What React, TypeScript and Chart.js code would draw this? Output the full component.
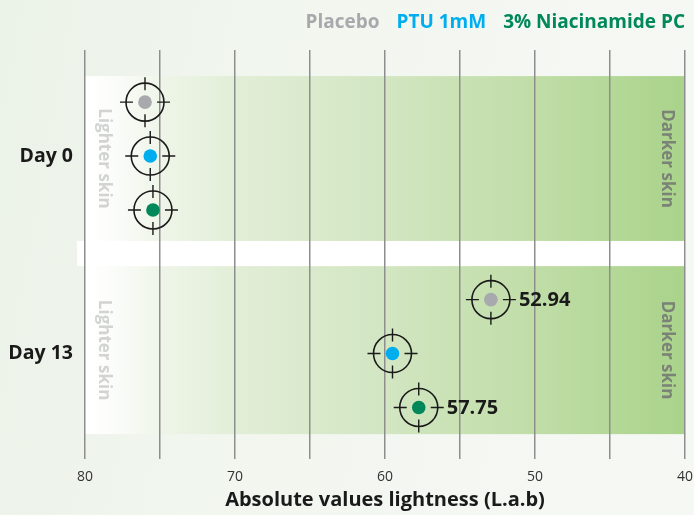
import React, { useEffect, useRef } from 'react';
import { Chart, registerables } from 'chart.js';

Chart.register(...registerables);

// ---- data ----
const days = ['Day 0', 'Day 13'];
const treatments = ['Placebo', 'PTU 1mM', '3% Niacinamide PC'];
const treatmentColors = ['#a7a9ac', '#00aeef', '#00875a'];
const placebo = [76.0, 52.94];
const ptu = [75.65, 59.5];
const niacinamide = [75.47, 57.75];
const placeboLabels = [null, '52.94'];
const ptuLabels = [null, null];
const niacinamideLabels = [null, '57.75'];
const xMin = 40;
const xMax = 80;
const xStep = 5;
const lighterText = 'Lighter skin';
const darkerText = 'Darker skin';
const axisTitle = 'Absolute values lightness (L.a.b)';

// group layout on the (hidden) y scale
const dayCenters = [0, 1];
const rowOffsets = [-0.273, 0, 0.273];
const panelRanges = [
  [-0.405, 0.43],
  [0.557, 1.408],
];

const FONT = '"Open Sans", Lato, sans-serif';

const seriesValues = [placebo, ptu, niacinamide];
const seriesLabels = [placeboLabels, ptuLabels, niacinamideLabels];

const panelsPlugin = {
  id: 'panels',
  beforeDraw(chart: any) {
    const { ctx, chartArea } = chart;
    const y = chart.scales.y;
    const left = chartArea.left;
    const right = chartArea.right;
    ctx.save();
    panelRanges.forEach(([a, b]) => {
      const top = y.getPixelForValue(a);
      const bot = y.getPixelForValue(b);
      const g = ctx.createLinearGradient(left, 0, right, 0);
      g.addColorStop(0, '#ffffff');
      g.addColorStop(0.04, '#fcfdfb');
      g.addColorStop(0.13, '#eef5e8');
      g.addColorStop(0.25, '#e2eed7');
      g.addColorStop(0.5, '#d2e6c2');
      g.addColorStop(0.75, '#c0dda7');
      g.addColorStop(1, '#a9d38a');
      ctx.fillStyle = g;
      ctx.fillRect(left, top, right - left, bot - top);

      const cy = (top + bot) / 2;
      ctx.font = `bold 17px ${FONT}`;
      ctx.textAlign = 'center';
      ctx.textBaseline = 'middle';
      ctx.fillStyle = '#d2d3d3';
      ctx.save();
      ctx.translate(left + 19, cy);
      ctx.rotate(Math.PI / 2);
      ctx.fillText(lighterText, 0, 0);
      ctx.restore();
      ctx.fillStyle = '#7b8276';
      ctx.save();
      ctx.translate(right - 18, cy);
      ctx.rotate(Math.PI / 2);
      ctx.fillText(darkerText, 0, 0);
      ctx.restore();
    });
    // white separator between the two panels
    const sTop = y.getPixelForValue(panelRanges[0][1]);
    const sBot = y.getPixelForValue(panelRanges[1][0]);
    ctx.fillStyle = '#ffffff';
    ctx.fillRect(left - 8, sTop, right - left + 9, sBot - sTop);

    // day labels
    ctx.font = `bold 19.5px ${FONT}`;
    ctx.fillStyle = '#1a1a1a';
    ctx.textAlign = 'right';
    ctx.textBaseline = 'middle';
    days.forEach((d, i) => {
      ctx.fillText(d, left - 12, y.getPixelForValue(dayCenters[i]));
    });
    ctx.restore();
  },
  afterDatasetsDraw(chart: any) {
    const { ctx } = chart;
    ctx.save();
    chart.data.datasets.forEach((ds: any, di: number) => {
      const meta = chart.getDatasetMeta(di);
      meta.data.forEach((el: any, i: number) => {
        const x = el.x;
        const yy = el.y;
        ctx.strokeStyle = '#1a1a1a';
        ctx.lineWidth = 1.6;
        ctx.beginPath();
        ctx.arc(x, yy, 19, 0, Math.PI * 2);
        ctx.stroke();
        ctx.lineWidth = 1.4;
        ctx.beginPath();
        ctx.moveTo(x, yy - 25);
        ctx.lineTo(x, yy - 12);
        ctx.moveTo(x, yy + 12);
        ctx.lineTo(x, yy + 25);
        ctx.moveTo(x - 25, yy);
        ctx.lineTo(x - 12, yy);
        ctx.moveTo(x + 12, yy);
        ctx.lineTo(x + 25, yy);
        ctx.stroke();
        const lab = seriesLabels[di][i];
        if (lab) {
          ctx.font = `bold 20px ${FONT}`;
          ctx.fillStyle = '#1a1a1a';
          ctx.textAlign = 'left';
          ctx.textBaseline = 'middle';
          ctx.fillText(lab, x + 28, yy + 1);
        }
      });
    });
    ctx.restore();
  },
  afterDraw(chart: any) {
    const { ctx } = chart;
    ctx.save();
    ctx.font = `bold 19px ${FONT}`;
    ctx.textAlign = 'left';
    ctx.textBaseline = 'middle';
    const gap = 17;
    const widths = treatments.map((t) => ctx.measureText(t).width);
    const total = widths.reduce((a, b) => a + b, 0) + gap * (treatments.length - 1);
    let x = 685 - total;
    treatments.forEach((t, i) => {
      ctx.fillStyle = treatmentColors[i];
      ctx.fillText(t, x, 23);
      x += widths[i] + gap;
    });
    ctx.restore();
  },
};

export default function App() {
  const ref = useRef<HTMLCanvasElement | null>(null);
  useEffect(() => {
    if (!ref.current) return;
    const chart = new Chart(ref.current, {
      type: 'scatter',
      data: {
        datasets: treatments.map((t, i) => ({
          label: t,
          data: seriesValues[i].map((v, d) => ({ x: v, y: dayCenters[d] + rowOffsets[i] })),
          backgroundColor: treatmentColors[i],
          borderWidth: 0,
          pointRadius: 6.8,
          pointHoverRadius: 6.8,
        })),
      },
      options: {
        animation: false,
        responsive: true,
        maintainAspectRatio: false,
        layout: { padding: { left: 85, right: 9, top: 50, bottom: 0 } },
        plugins: { legend: { display: false }, tooltip: { enabled: false } },
        scales: {
          x: {
            type: 'linear',
            min: xMin,
            max: xMax,
            reverse: true,
            afterFit: (s: any) => {
              s.height = 56;
              s.paddingLeft = 0;
              s.paddingRight = 0;
            },
            grid: { color: '#8e8e8e', lineWidth: 1.5, drawTicks: false },
            border: { display: false },
            ticks: {
              stepSize: xStep,
              autoSkip: false,
              maxRotation: 0,
              padding: 10,
              color: '#333333',
              font: { family: FONT, size: 14 },
              callback: (v: any) => (Number(v) % 10 === 0 ? String(v) : ''),
            },
            title: {
              display: true,
              text: axisTitle,
              color: '#1a1a1a',
              font: { family: FONT, size: 20, weight: 'bold' },
              padding: { top: 0, bottom: 3 },
            },
          },
          y: {
            type: 'linear',
            display: false,
            min: -0.537,
            max: 1.534,
            reverse: true,
          },
        },
      },
      plugins: [panelsPlugin],
    });
    return () => chart.destroy();
  }, []);
  return (
    <div
      style={{
        position: 'absolute',
        left: 0,
        top: 0,
        width: 694,
        height: 515,
        background: 'linear-gradient(100deg, #ebf2e8 0%, #f1f6ee 35%, #f4f7f2 70%, #f6f8f4 100%)',
      }}
    >
      <canvas ref={ref} />
    </div>
  );
}
